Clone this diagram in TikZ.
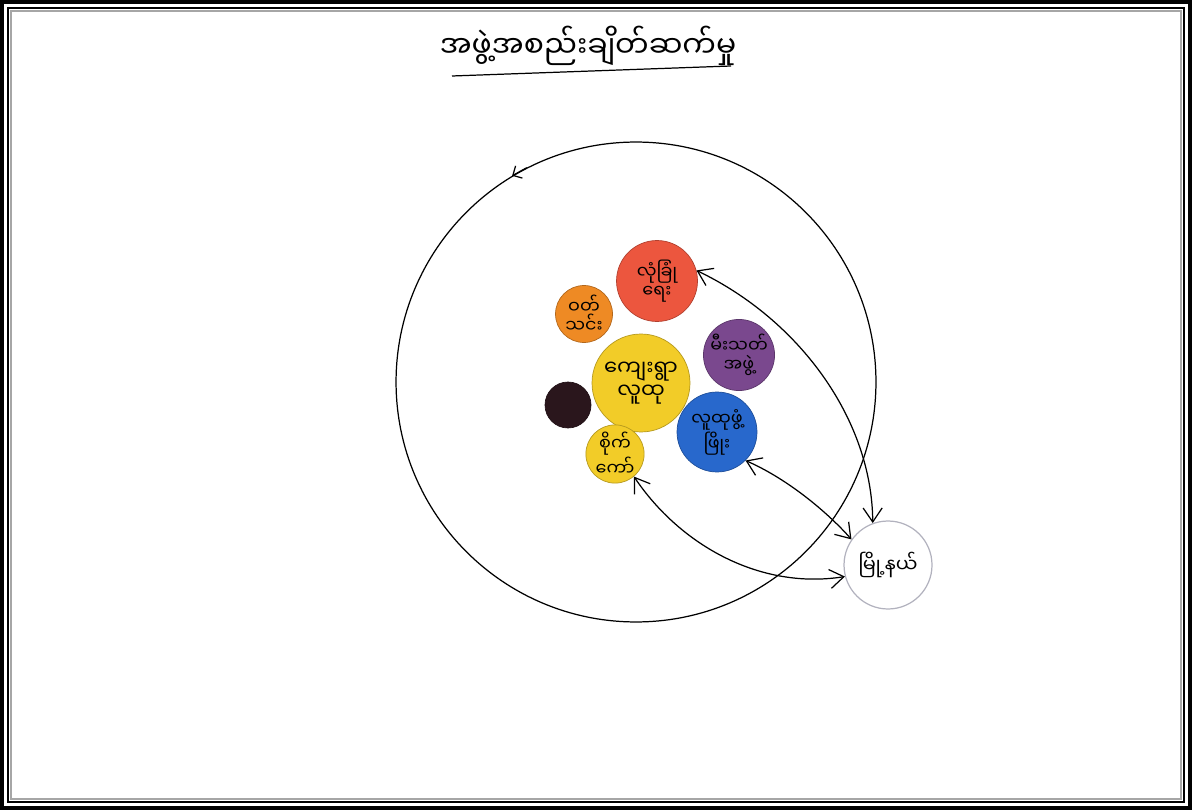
\documentclass[tikz,border=0pt]{standalone}
\usepackage{fontspec}
\newfontfamily\mya[Script=Myanmar]{Noto Sans Myanmar UI}
\usetikzlibrary{arrows.meta}
\definecolor{redorg}{RGB}{236,86,62}
\definecolor{orangeorg}{RGB}{238,138,36}
\definecolor{yelloworg}{RGB}{242,204,40}
\definecolor{purpleorg}{RGB}{122,72,142}
\definecolor{darkorg}{RGB}{42,22,28}
\definecolor{blueorg}{RGB}{40,104,204}
\definecolor{townline}{RGB}{178,178,190}
\begin{document}
\begin{tikzpicture}[
        x=0.02cm, y=-0.02cm,
        org/.style={circle, draw=#1!75!black, fill=#1, inner sep=0pt, align=center, font=\mya\fontsize{10}{11}\selectfont},
        link/.style={line width=0.7pt, {Straight Barb[length=2.8mm, width=3.8mm]}-{Straight Barb[length=2.8mm, width=3.8mm]}}
    ]
    \useasboundingbox (0,0) rectangle (1192,810);

    % frame
    \draw[line width=2.6pt] (1.5,1.5) rectangle (1190.5,808.5);
    \draw[line width=0.9pt] (8,8) rectangle (1184,802);
    \draw[line width=1.2pt, black!35] (11,11) rectangle (1181,799);

    % title
    \node[font=\mya\fontsize{17}{19}\selectfont] (title) at (588,46) {အဖွဲ့အစည်းချိတ်ဆက်မှု};
    \draw[line width=0.7pt] (452,76) -- (731,66);

    % outer circle
    \node[circle, draw, line width=0.7pt, minimum size=9.6cm] (world) at (636,382) {};
    \draw[line width=0.7pt, -{Straight Barb[length=1.4mm]}] (world.117) -- (world.121);

    % organisations
    \node[org=redorg, minimum size=1.62cm] (security) at (657,281) {လုံခြုံ\\ရေး};
    \node[org=orangeorg, minimum size=1.14cm] (wat) at (584,314) {ဝတ်\\သင်း};
    \node[org=yelloworg, minimum size=1.96cm, font=\mya\fontsize{12}{13}\selectfont] (village) at (641,383) {ကျေးရွာ\\လူထု};
    \node[org=purpleorg, minimum size=1.38cm] (fire) at (739,355) {မီးသတ်\\အဖွဲ့};
    \node[org=darkorg, minimum size=0.92cm] (dark) at (568,405) {};
    \node[org=yelloworg, minimum size=1.04cm] (saik) at (615,454) {စိုက်\\ကော်};
    \node[org=blueorg, minimum size=1.6cm] (develop) at (717,432) {လူထုဖွံ့\\ဖြိုး};

    % township
    \node[circle, draw=townline, line width=0.7pt, minimum size=1.76cm, font=\mya\fontsize{11}{12}\selectfont] (township) at (888,565) {မြို့နယ်};

    % links
    \draw[link] (security.15) .. controls (800,320) and (872,420) .. (township.110);
    \draw[link] (develop.-45) .. controls (790,480) and (830,515) .. (township.145);
    \draw[link] (saik.-50) .. controls (680,545) and (760,590) .. (township.195);

\end{tikzpicture}
\end{document}
